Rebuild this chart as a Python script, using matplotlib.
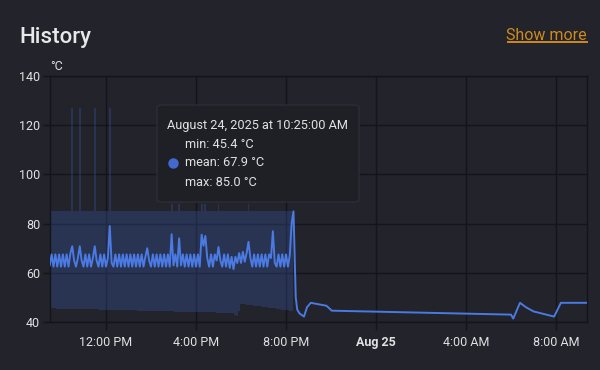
import matplotlib
matplotlib.use("Agg")
import matplotlib.pyplot as plt
from matplotlib.patches import FancyBboxPatch
from matplotlib.lines import Line2D
import pandas as pd

plt.rcParams['font.family'] = ['Roboto', 'DejaVu Sans']

BG = '#22232b'
GRID = '#141519'
TXT = '#e1e1e1'
LINE = '#4a7ae2'

# 5-minute statistics, Aug 24 from 09:30 (one row = one hour)
stat_start = "2025-08-24 09:30"
stat_mean = [
    63.0, 67.5, 62.5, 67.5, 62.5, 67.5, 62.5, 67.5, 62.5, 67.5, 62.5, 67.9,
    70.8, 65.0, 62.5, 66.0, 70.8, 65.0, 62.5, 67.5, 62.5, 67.5, 62.5, 66.0,
    70.8, 65.0, 62.5, 67.5, 62.5, 67.5, 62.5, 66.0, 79.0, 64.0, 62.5, 67.5,
    62.5, 67.5, 62.5, 67.5, 62.5, 67.5, 62.5, 67.5, 62.5, 67.5, 62.5, 67.5,
    62.5, 67.5, 62.5, 66.5, 70.0, 65.0, 62.5, 67.5, 62.5, 67.5, 62.5, 67.5,
    62.5, 67.5, 62.5, 67.5, 62.5, 75.7, 63.0, 67.5, 62.5, 74.0, 63.0, 67.5,
    62.5, 67.5, 62.5, 67.5, 62.5, 67.5, 62.5, 67.5, 62.5, 75.5, 71.0, 75.0,
    66.0, 62.5, 67.5, 62.5, 67.5, 65.0, 70.5, 65.0, 62.5, 67.5, 62.5, 67.5,
    62.0, 66.5, 61.5, 66.5, 64.0, 68.0, 64.0, 68.5, 64.5, 68.0, 72.6, 66.0,
    62.5, 67.5, 62.5, 67.5, 62.5, 67.5, 62.5, 67.5, 62.5, 67.5, 66.0, 76.9,
    64.0, 62.5, 67.5, 62.5, 67.5, 62.5, 67.5, 62.5, 67.0, 80.0, 85.0,
]
stat_min = [
    45.5, 45.5, 45.5, 45.5, 45.4, 45.4, 45.4, 45.4, 45.4, 45.4, 45.4, 45.4,
    45.3, 45.3, 45.3, 45.3, 45.3, 45.2, 45.2, 45.2, 45.2, 45.2, 45.1, 45.1,
    45.1, 45.1, 45.1, 45.0, 45.0, 45.0, 45.0, 45.0, 44.9, 44.9, 44.9, 44.9,
    44.9, 44.8, 44.8, 44.8, 44.8, 44.8, 44.7, 44.7, 44.7, 44.7, 44.7, 44.6,
    44.6, 44.6, 44.6, 44.6, 44.5, 44.5, 44.5, 44.5, 44.5, 44.4, 44.4, 44.4,
    44.4, 44.4, 44.3, 44.3, 44.3, 44.3, 44.3, 44.2, 44.2, 44.2, 44.2, 44.2,
    44.1, 44.1, 44.1, 44.1, 44.1, 44.0, 44.0, 44.0, 44.0, 44.0, 43.9, 43.9,
    43.9, 43.9, 43.9, 43.9, 43.9, 43.8, 43.8, 43.8, 43.8, 43.8, 43.8, 43.8,
    43.7, 43.7, 43.6, 43.0, 42.4, 44.5, 47.4, 47.3, 47.2, 47.1, 47.0, 46.9,
    46.8, 46.7, 46.6, 46.5, 46.4, 46.3, 46.2, 46.1, 46.0, 45.8, 45.7, 45.6,
    45.5, 45.4, 45.3, 45.2, 45.0, 44.9, 44.8, 44.7, 44.6, 44.4, 44.3,
]
stat_max = [
    85, 85, 85, 85, 85, 85, 85, 85, 85, 85, 85, 85,
    127, 85, 85, 85, 127, 85, 85, 85, 85, 85, 85, 85,
    127, 85, 85, 85, 85, 85, 85, 85, 127, 85, 85, 85,
    85, 85, 85, 85, 85, 85, 85, 85, 85, 85, 85, 85,
    85, 85, 85, 85, 85, 85, 85, 85, 85, 85, 85, 85,
    85, 85, 85, 85, 85, 88, 85, 85, 85, 88, 85, 85,
    85, 85, 85, 85, 85, 85, 85, 85, 85, 88, 85, 88,
    85, 85, 85, 85, 85, 85, 88, 85, 85, 85, 85, 85,
    85, 85, 85, 85, 85, 85, 85, 85, 85, 85, 88, 85,
    85, 85, 85, 85, 85, 85, 85, 85, 85, 85, 85, 85,
    85, 85, 85, 85, 85, 85, 85, 85, 85, 85, 85,
]

# plain history after the statistics end
tail_times = ["2025-08-24 20:26", "2025-08-24 20:30", "2025-08-24 20:36",
              "2025-08-24 20:48", "2025-08-24 20:56", "2025-08-24 21:06",
              "2025-08-24 21:48", "2025-08-24 22:02", "2025-08-25 01:00",
              "2025-08-25 06:00", "2025-08-25 06:06", "2025-08-25 06:24",
              "2025-08-25 06:40", "2025-08-25 07:00", "2025-08-25 07:55",
              "2025-08-25 08:13", "2025-08-25 09:23"]
tail_vals = [50.0, 45.0, 43.5, 42.2, 46.0, 47.8, 46.6, 44.6, 44.0,
             43.0, 41.4, 47.8, 46.0, 44.3, 42.2, 47.8, 47.8]

tick_times = ["2025-08-24 12:00", "2025-08-24 16:00", "2025-08-24 20:00",
              "2025-08-25 00:00", "2025-08-25 04:00", "2025-08-25 08:00"]
tick_labels = ["12:00 PM", "4:00 PM", "8:00 PM", "Aug 25", "4:00 AM", "8:00 AM"]

stat_times = pd.date_range(stat_start, periods=len(stat_mean), freq="5min")
line_times = list(stat_times) + list(pd.to_datetime(tail_times))
line_vals = stat_mean + tail_vals

fig = plt.figure(figsize=(6, 3.7), dpi=100, facecolor=BG)
ax = fig.add_axes([50/600, 48/370, 537/600, 246/370])
ax.set_facecolor(BG)

ax.fill_between(stat_times, stat_min, stat_max, step='mid', color='#4269d0',
                alpha=0.24, lw=0, zorder=2)
ax.plot(line_times, line_vals, color=LINE, lw=1.4, zorder=3)

ax.set_ylim(40, 140)
ax.set_yticks(range(40, 141, 20))
ax.set_xlim(pd.Timestamp("2025-08-24 09:30:40"), pd.Timestamp("2025-08-25 09:22:40"))
ax.set_xticks(pd.to_datetime(tick_times))
ax.set_xticklabels(tick_labels)
ax.get_xticklabels()[3].set_fontweight('bold')

ax.grid(color=GRID, lw=1.0, zorder=1)
ax.set_axisbelow(True)
ax.tick_params(colors=GRID, labelcolor=TXT, labelsize=9, width=1.0)
ax.tick_params(axis='y', length=5, pad=2)
ax.tick_params(axis='x', length=6, pad=4)
for sp in ax.spines.values():
    sp.set_color(GRID)
    sp.set_linewidth(1.0)

# header
fig.text(19/600, 1 - 43.5/370, "History", fontsize=16, fontweight='medium',
         color='#e8e8e8', va='baseline')
fig.text(587/600, 1 - 39.5/370, "Show more", fontsize=11.5, color='#cf8a1c',
         ha='right', va='baseline')
fig.add_artist(Line2D([508/600, 587/600], [1 - 41.8/370, 1 - 41.8/370],
                      color='#cf8a1c', lw=1.4, transform=fig.transFigure))
fig.text(50/600, 1 - 67/370, "°C", fontsize=9, color=TXT, va='center')

# tooltip
box = FancyBboxPatch((157/600, 1 - 202/370), 202/600, 97/370,
                     boxstyle="round,pad=0,rounding_size=0.008",
                     transform=fig.transFigure, facecolor='#1f2026',
                     edgecolor='#303138', lw=0.8, zorder=10)
fig.add_artist(box)
fig.text(167/600, 1 - 125/370, "August 24, 2025 at 10:25:00 AM", fontsize=9.2,
         color=TXT, va='center', zorder=11)
fig.text(185/600, 1 - 144/370, "min: 45.4 °C", fontsize=9.2, color=TXT,
         va='center', zorder=11)
fig.text(185/600, 1 - 163/370, "mean: 67.9 °C", fontsize=9.2, color=TXT,
         va='center', zorder=11)
fig.text(185/600, 1 - 182/370, "max: 85.0 °C", fontsize=9.2, color=TXT,
         va='center', zorder=11)
fig.add_artist(Line2D([172.7/600], [1 - 163.3/370], marker='o', ms=7.5,
                      color='#4269d0', mec='none', transform=fig.transFigure,
                      zorder=11))

fig.savefig("out.png", dpi=100, facecolor=BG)
